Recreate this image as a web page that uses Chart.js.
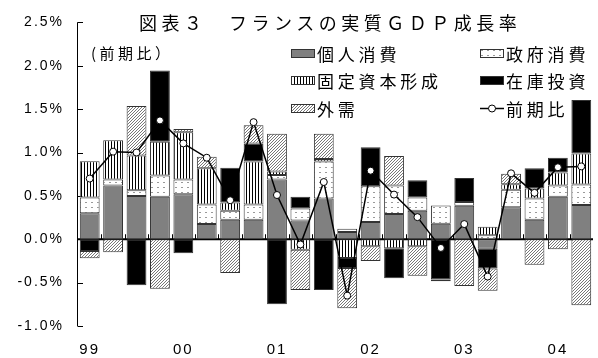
<!DOCTYPE html>
<html lang="ja">
<head>
<meta charset="utf-8">
<script src="https://cdn.jsdelivr.net/npm/chart.js@4"></script>
<style>
  body { margin: 0; background: #fff; }
  #wrap { position: relative; width: 598px; height: 358px; font-family: "Noto Sans CJK JP", sans-serif; color: #000; }
  #chart { position: absolute; left: 0; top: 0; }
  .txt { position: absolute; white-space: nowrap; line-height: 1; }
  #title { left: 139px; top: 13px; font-size: 18px; letter-spacing: 4.5px; }
  #note { left: 91px; top: 45px; font-size: 15px; letter-spacing: 3.5px; }
  .item { position: absolute; height: 20px; display: flex; align-items: center; font-size: 17px; letter-spacing: 3.8px; white-space: nowrap; line-height: 1; }
  .item canvas { margin-right: 2px; }
</style>
</head>
<body>
<div id="wrap">
  <canvas id="chart" width="598" height="358"></canvas>
  <div class="txt" id="title">図表３　フランスの実質ＧＤＰ成長率</div>
  <div class="txt" id="note">(前期比）</div>
  <div class="item" style="left:291px; top:43px"><canvas id="sw0" width="24" height="10"></canvas>個人消費</div>
  <div class="item" style="left:480px; top:43px"><canvas id="sw1" width="24" height="10"></canvas>政府消費</div>
  <div class="item" style="left:291px; top:70px"><canvas id="sw2" width="24" height="10"></canvas>固定資本形成</div>
  <div class="item" style="left:480px; top:70px"><canvas id="sw3" width="24" height="10"></canvas>在庫投資</div>
  <div class="item" style="left:291px; top:98px"><canvas id="sw4" width="24" height="10"></canvas>外需</div>
  <div class="item" style="left:480px; top:98px"><canvas id="sw5" width="24" height="10"></canvas>前期比</div>
</div>
<script>
// 99Q1 - 04Q2
const quarters = [
  "99Q1", "99Q2", "99Q3", "99Q4", "00Q1", "00Q2", "00Q3", "00Q4",
  "01Q1", "01Q2", "01Q3", "01Q4", "02Q1", "02Q2", "02Q3", "02Q4",
  "03Q1", "03Q2", "03Q3", "03Q4", "04Q1", "04Q2"
];
const yearLabels = ["99", "00", "01", "02", "03", "04"];

// contributions (%pt)
const personal = [0.30, 0.62, 0.50, 0.49, 0.52, 0.175, 0.225, 0.225, 0.69, 0.215, 0.47, 0.085,
  0.20, 0.29, 0.33, 0.18, 0.385, -0.11, 0.37, 0.225, 0.49, 0.395];
const government = [0.18, 0.07, 0.065, 0.245, 0.17, 0.225, 0.105, 0.175, 0.05, 0.14, 0.425, 0.035,
  0.41, 0.33, 0.15, 0.21, 0.045, 0.045, 0.20, 0.245, 0.13, 0.235];
const investment = [0.42, 0.45, 0.40, 0.39, 0.545, 0.42, 0.095, 0.495, 0.04, -0.12, 0.03, -0.215,
  -0.08, -0.105, -0.08, 0, 0, 0.10, 0.065, 0.115, 0.15, 0.36];
const inventory = [-0.135, 0, -0.53, 0.82, -0.16, 0, 0.40, 0.21, -0.75, 0.135, -0.585, -0.115,
  0.45, -0.345, 0.20, -0.465, 0.275, -0.227, 0, 0.235, 0.17, 0.615];
const external = [-0.085, -0.15, 0.57, -0.57, 0.035, 0.13, -0.39, 0.21, 0.435, -0.465, 0.29, -0.465,
  -0.17, 0.34, -0.34, -0.02, -0.54, -0.257, 0.12, -0.295, -0.115, -0.76];
// 前期比
const growth = [0.70, 1.01, 1.00, 1.37, 1.105, 0.94, 0.45, 1.35, 0.51, -0.06, 0.66, -0.65,
  0.79, 0.515, 0.255, -0.10, 0.175, -0.43, 0.76, 0.535, 0.83, 0.84];

// pattern tiles
function tile(w, h, draw) {
  const c = document.createElement("canvas");
  c.width = w;
  c.height = h;
  const g = c.getContext("2d");
  g.fillStyle = "#fff";
  g.fillRect(0, 0, w, h);
  draw(g);
  return c;
}
const dotsTile = tile(6, 5, (g) => {
  g.fillStyle = "#999";
  g.fillRect(1, 2, 2, 1);
});
const vlinesTile = tile(3, 3, (g) => {
  g.fillStyle = "#000";
  g.fillRect(0, 0, 1, 3);
});
const hatchTile = tile(3, 3, (g) => {
  g.fillStyle = "#777";
  for (let i = 0; i < 3; i++) g.fillRect(i, 2 - i, 1, 1);
});

const canvas = document.getElementById("chart");
const ctx = canvas.getContext("2d");
const fills = [
  "#808080",
  ctx.createPattern(dotsTile, "repeat"),
  ctx.createPattern(vlinesTile, "repeat"),
  "#000",
  ctx.createPattern(hatchTile, "repeat"),
];

// legend swatches
[0, 1, 2, 3, 4].forEach((i) => {
  const g = document.getElementById("sw" + i).getContext("2d");
  const src = [null, dotsTile, vlinesTile, null, hatchTile][i];
  g.fillStyle = src ? g.createPattern(src, "repeat") : fills[i];
  g.fillRect(0, 1, 24, 9);
  g.strokeStyle = "#333";
  g.strokeRect(0.5, 1.5, 23, 8);
});
(function () {
  const g = document.getElementById("sw5").getContext("2d");
  g.strokeStyle = "#000";
  g.lineWidth = 1.5;
  g.beginPath();
  g.moveTo(0, 5.5);
  g.lineTo(24, 5.5);
  g.stroke();
  g.fillStyle = "#fff";
  g.lineWidth = 1;
  g.beginPath();
  g.arc(12, 5.5, 3.5, 0, Math.PI * 2);
  g.fill();
  g.stroke();
})();

function barSet(label, data, fill) {
  return {
    type: "bar",
    label: label,
    data: data,
    backgroundColor: fill,
    borderColor: "#333",
    borderWidth: 1,
    borderSkipped: false,
    stack: "gdp",
    order: 1,
    barPercentage: 0.846,
    categoryPercentage: 1,
  };
}

// y axis, ticks and zero line
const axesPlugin = {
  id: "axes",
  beforeDraw(chart) {
    chart.ctx.letterSpacing = "2px";
  },
  beforeDatasetsDraw(chart) {
    const { ctx, chartArea: a, scales } = chart;
    const y = scales.y;
    ctx.save();
    ctx.letterSpacing = "0px";
    ctx.strokeStyle = "#000";
    ctx.lineWidth = 1;
    ctx.beginPath();
    ctx.moveTo(a.left - 0.5, a.top);
    ctx.lineTo(a.left - 0.5, a.bottom);
    y.ticks.forEach((t) => {
      const py = Math.round(y.getPixelForValue(t.value)) + 0.5;
      ctx.moveTo(a.left - 0.5, py);
      ctx.lineTo(a.left + 5, py);
    });
    ctx.stroke();

    const y0 = y.getPixelForValue(0);
    ctx.lineWidth = 2;
    ctx.beginPath();
    ctx.moveTo(a.left, y0);
    ctx.lineTo(a.right, y0);
    ctx.stroke();

    const w = (a.right - a.left) / quarters.length;
    ctx.lineWidth = 1;
    ctx.beginPath();
    for (let i = 1; i < quarters.length; i++) {
      const px = Math.round(a.left + i * w) + 0.5;
      ctx.moveTo(px, y0 - 5);
      ctx.lineTo(px, y0);
    }
    ctx.stroke();
    ctx.restore();
  },
  afterDraw(chart) {
    chart.ctx.letterSpacing = "0px";
  },
};

new Chart(canvas, {
  data: {
    labels: quarters,
    datasets: [
      {
        type: "line",
        label: "前期比",
        data: growth,
        borderColor: "#000",
        borderWidth: 1.5,
        pointRadius: 3.5,
        pointBackgroundColor: "#fff",
        pointBorderColor: "#000",
        pointBorderWidth: 1,
        tension: 0,
        stack: "line",
        order: 0,
      },
      barSet("個人消費", personal, fills[0]),
      barSet("政府消費", government, fills[1]),
      barSet("固定資本形成", investment, fills[2]),
      barSet("在庫投資", inventory, fills[3]),
      barSet("外需", external, fills[4]),
    ],
  },
  options: {
    responsive: false,
    animation: false,
    layout: { padding: { top: 19, left: 0, right: 0, bottom: 0 } },
    plugins: {
      legend: { display: false },
      tooltip: { enabled: false },
      title: { display: false },
    },
    scales: {
      x: {
        stacked: true,
        grid: { display: false, drawTicks: false },
        border: { display: false },
        ticks: {
          autoSkip: false,
          maxRotation: 0,
          padding: 15,
          color: "#000",
          font: { family: "Liberation Sans", size: 15 },
          callback: (v, i) => (i % 4 === 0 ? yearLabels[i / 4] : ""),
        },
        afterFit: (s) => { s.height = 32; },
      },
      y: {
        stacked: true,
        min: -1.0,
        max: 2.5,
        grid: { display: false, drawTicks: false },
        border: { display: false },
        ticks: {
          stepSize: 0.5,
          padding: 14,
          color: "#000",
          font: { family: "Liberation Sans", size: 14 },
          callback: (v) => v.toFixed(1) + "%",
        },
        afterFit: (s) => { s.width = 78; },
      },
    },
  },
  plugins: [axesPlugin],
});
</script>
</body>
</html>
